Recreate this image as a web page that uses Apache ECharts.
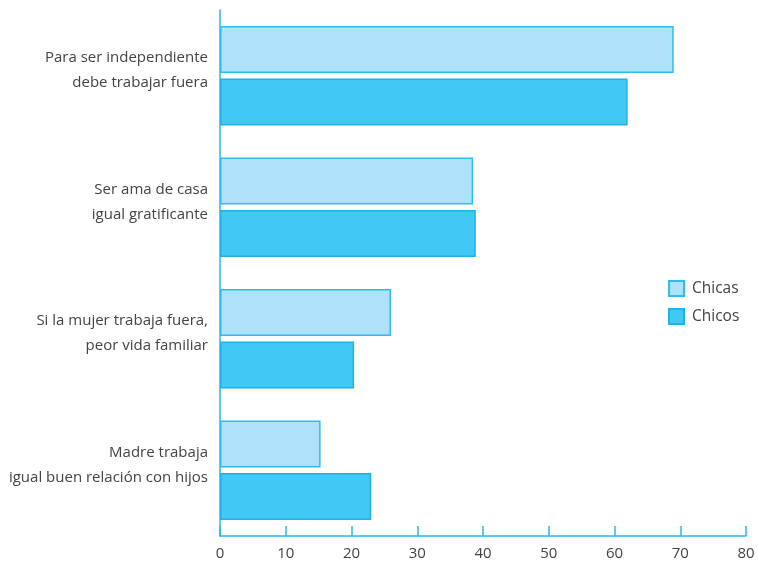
<!DOCTYPE html>
<html>
<head>
<meta charset="utf-8">
<script src="https://cdn.jsdelivr.net/npm/echarts@6/dist/echarts.min.js"></script>
<style>
  html, body { margin: 0; padding: 0; background: #ffffff; }
  #chart { width: 758px; height: 566px; }
</style>
</head>
<body>
<div id="chart"></div>
<script>
// Survey statements (top to bottom)
const categories = [
  'Para ser independiente\ndebe trabajar fuera',
  'Ser ama de casa\nigual gratificante',
  'Si la mujer trabaja fuera,\npeor vida familiar',
  'Madre trabaja\nigual buen relación con hijos'
];
// Percentage agreeing, by group
const chicas = [69, 38.5, 26, 15.3];
const chicos = [62, 38.9, 20.4, 23];
const xTicks = { min: 0, max: 80, interval: 10 };

const axisBlue = '#29b9ec';
const textColor = '#444444';
const fontFamily = '"Open Sans", Lato, sans-serif';

const chart = echarts.init(document.getElementById('chart'));
chart.setOption({
  animation: false,
  backgroundColor: '#ffffff',
  grid: { left: 220, right: 12, top: 10, bottom: 30 },
  legend: {
    orient: 'vertical',
    left: 663,
    top: 275,
    itemWidth: 15,
    itemHeight: 15,
    itemGap: 11,
    icon: 'rect',
    textStyle: { color: textColor, fontSize: 15.5, fontFamily: fontFamily, padding: [0, 0, 0, 3] },
    data: ['Chicas', 'Chicos']
  },
  xAxis: {
    type: 'value',
    min: xTicks.min,
    max: xTicks.max,
    interval: xTicks.interval,
    axisLine: { show: true, lineStyle: { color: axisBlue, width: 1.5 } },
    axisTick: { show: true, inside: true, length: 10, lineStyle: { color: axisBlue, width: 1.5 } },
    splitLine: { show: false },
    axisLabel: { color: textColor, fontSize: 15, fontFamily: fontFamily, margin: 10 }
  },
  yAxis: {
    type: 'category',
    inverse: true,
    data: categories,
    axisLine: { show: true, lineStyle: { color: axisBlue, width: 1.5 } },
    axisTick: { show: false },
    axisLabel: {
      margin: 12,
      align: 'right',
      // two text lines plus a short spacer line, which lifts the block a little
      formatter: function (v) {
        return v.split('\n').map(function (l) { return '{t|' + l + '}'; }).join('\n') + '\n{s| }';
      },
      rich: {
        t: { color: textColor, fontSize: 15, fontFamily: fontFamily, lineHeight: 25 },
        s: { fontSize: 8, lineHeight: 11 }
      }
    }
  },
  series: [
    {
      name: 'Chicas',
      type: 'bar',
      data: chicas,
      barWidth: 47,
      barGap: '12%',
      itemStyle: { color: '#aee2fa', borderColor: '#2ebbee', borderWidth: 1.5 }
    },
    {
      name: 'Chicos',
      type: 'bar',
      data: chicos,
      barWidth: 47,
      barGap: '12%',
      itemStyle: { color: '#42c8f4', borderColor: '#1db2e8', borderWidth: 1.5 }
    }
  ]
});
</script>
</body>
</html>
